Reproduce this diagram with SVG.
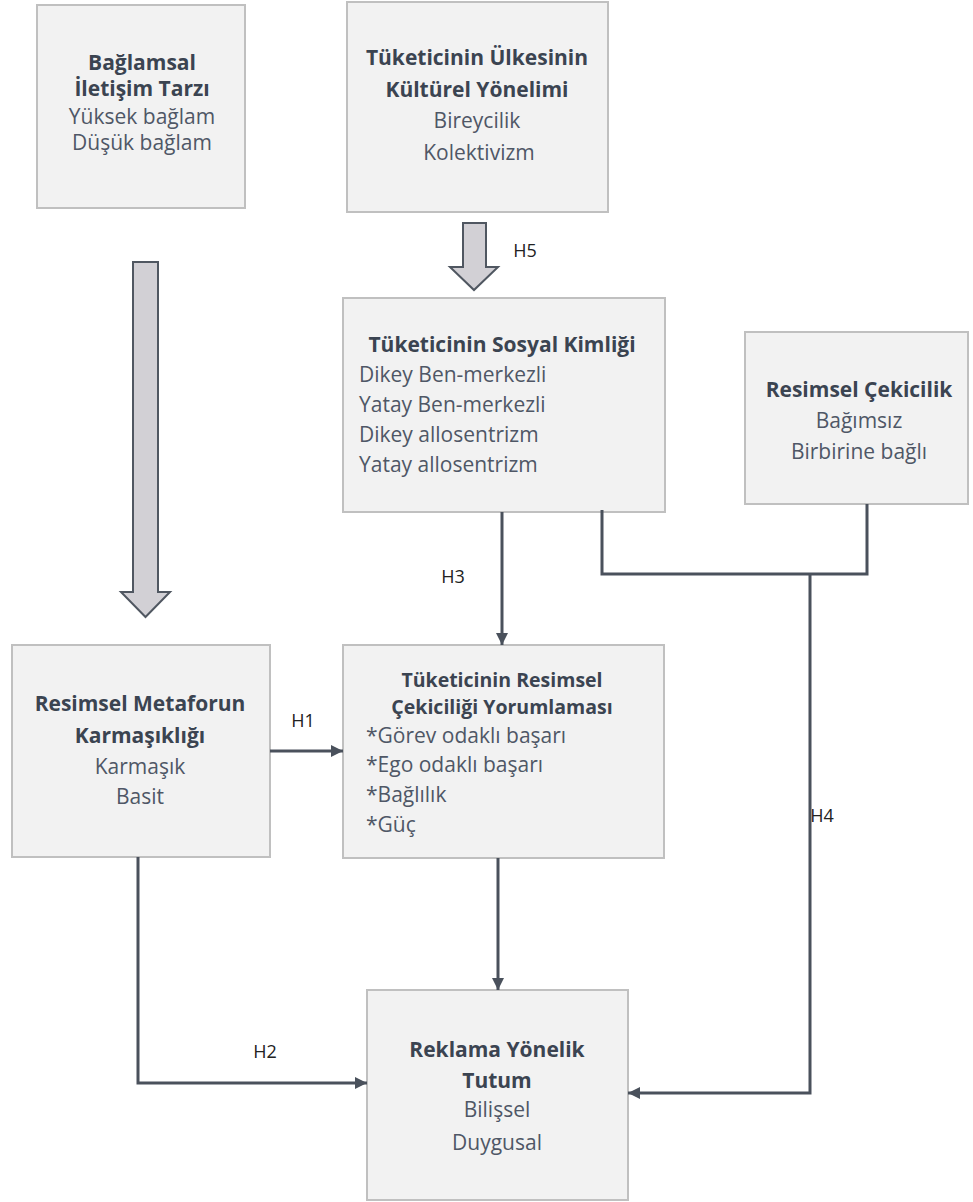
<svg xmlns="http://www.w3.org/2000/svg" width="973" height="1202" viewBox="0 0 973 1202">
<defs>
<style>
.box{fill:#f2f2f2;stroke:#c0c0c0;stroke-width:2}
.t{font-family:"Open Sans","Liberation Sans",sans-serif;font-size:21px;fill:#3b4451;font-weight:700}
.r{font-family:"Open Sans","Liberation Sans",sans-serif;font-size:21px;fill:#4f5766}
.lbl{font-family:"Open Sans","Liberation Sans",sans-serif;font-size:18px;fill:#222222;text-anchor:middle}
.c{text-anchor:middle}
.con{fill:none;stroke:#4a515c;stroke-width:3}
.blk{fill:#d2d0d5;stroke:#505761;stroke-width:2}
</style>
<marker id="ah" markerUnits="userSpaceOnUse" markerWidth="12" markerHeight="12" viewBox="0 0 12 12" refX="12" refY="6" orient="auto">
<path d="M0,0 L12,6 L0,12 z" fill="#4a515c"/>
</marker>
</defs>
<rect width="973" height="1202" fill="#ffffff"/>

<g id="baglamsal">
<rect class="box" x="37" y="5" width="208" height="203"/>
<text class="t c" x="142" y="70">Bağlamsal</text>
<text class="t c" x="142" y="96">İletişim Tarzı</text>
<text class="r c" x="142" y="124">Yüksek bağlam</text>
<text class="r c" x="142" y="150">Düşük bağlam</text>
</g>

<g id="kulturel">
<rect class="box" x="347" y="2" width="261" height="210"/>
<text class="t c" x="477" y="65">Tüketicinin Ülkesinin</text>
<text class="t c" x="477" y="97">Kültürel Yönelimi</text>
<text class="r c" x="477" y="128">Bireycilik</text>
<text class="r c" x="479" y="160">Kolektivizm</text>
</g>

<g id="sosyal">
<rect class="box" x="343" y="298" width="322" height="214"/>
<text class="t c" x="502" y="352">Tüketicinin Sosyal Kimliği</text>
<text class="r" x="359" y="382">Dikey Ben-merkezli</text>
<text class="r" x="359" y="412">Yatay Ben-merkezli</text>
<text class="r" x="359" y="442">Dikey allosentrizm</text>
<text class="r" x="359" y="472">Yatay allosentrizm</text>
</g>

<g id="cekicilik">
<rect class="box" x="745" y="332" width="223" height="172"/>
<text class="t c" x="859" y="397">Resimsel Çekicilik</text>
<text class="r c" x="859" y="428">Bağımsız</text>
<text class="r c" x="859" y="459">Birbirine bağlı</text>
</g>

<g id="metafor">
<rect class="box" x="12" y="645" width="258" height="212"/>
<text class="t c" x="140" y="711">Resimsel Metaforun</text>
<text class="t c" x="140" y="743">Karmaşıklığı</text>
<text class="r c" x="140" y="774">Karmaşık</text>
<text class="r c" x="140" y="804">Basit</text>
</g>

<g id="yorumlama">
<rect class="box" x="343" y="645" width="321" height="213"/>
<text class="t c" x="502" y="687" style="font-size:19.5px">Tüketicinin Resimsel</text>
<text class="t c" x="502" y="714" style="font-size:19.5px">Çekiciliği Yorumlaması</text>
<text class="r" x="366" y="743">*Görev odaklı başarı</text>
<text class="r" x="366" y="772">*Ego odaklı başarı</text>
<text class="r" x="366" y="802">*Bağlılık</text>
<text class="r" x="366" y="832">*Güç</text>
</g>

<g id="tutum">
<rect class="box" x="367" y="990" width="261" height="210"/>
<text class="t c" x="497" y="1057">Reklama Yönelik</text>
<text class="t c" x="497" y="1088">Tutum</text>
<text class="r c" x="497" y="1117">Bilişsel</text>
<text class="r c" x="497" y="1150">Duygusal</text>
</g>

<g id="connectors">
<polygon class="blk" points="133,262 158,262 158,592 170,592 145.5,617 121,592 133,592"/>
<polygon class="blk" points="463,223 486,223 486,267 498,267 474,290 450,267 463,267"/>
<path class="con" d="M502,512 V645" marker-end="url(#ah)"/>
<path class="con" d="M602,510 V574 H867 V504"/>
<path class="con" d="M810,574 V1093 H628" marker-end="url(#ah)"/>
<path class="con" d="M270,751 H343" marker-end="url(#ah)"/>
<path class="con" d="M138,857 V1083 H367" marker-end="url(#ah)"/>
<path class="con" d="M498,858 V990" marker-end="url(#ah)"/>
</g>

<g id="labels">
<text class="lbl" x="303" y="727">H1</text>
<text class="lbl" x="265" y="1058">H2</text>
<text class="lbl" x="453" y="583">H3</text>
<text class="lbl" x="822" y="822">H4</text>
<text class="lbl" x="525" y="257">H5</text>
</g>
</svg>
